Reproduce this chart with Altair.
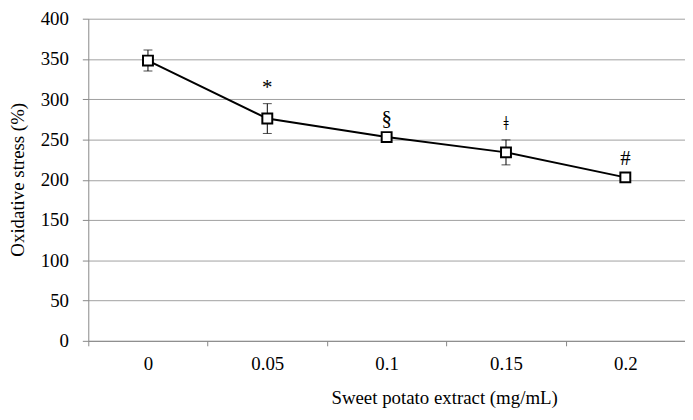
import altair as alt
import pandas as pd

categories = ["0", "0.05", "0.1", "0.15", "0.2"]
means = [348, 276, 253, 234, 203]
errors = [13, 18.5, 3, 15.5, 3]
marks = ["", "*", "§", "ǂ", "#"]

df = pd.DataFrame({
    "x": categories,
    "y": means,
    "lo": [m - e for m, e in zip(means, errors)],
    "hi": [m + e for m, e in zip(means, errors)],
    "mark": marks,
})

FONT = "Liberation Serif"

xenc = alt.X(
    "x:N",
    sort=categories,
    scale=alt.Scale(type="band", paddingInner=0, paddingOuter=0),
    axis=alt.Axis(
        title="Sweet potato extract (mg/mL)",
        labelAngle=0,
        tickBand="extent",
        grid=False,
        tickSize=5,
        labelPadding=9,
        titleX=359,
        titleY=57,
        titleBaseline="middle",
        titleAlign="center",
    ),
)

yscale = alt.Scale(domain=[0, 400])
yaxis = alt.Axis(
    title="Oxidative stress (%)",
    values=[0, 50, 100, 150, 200, 250, 300, 350, 400],
    grid=True,
    tickSize=6,
    labelPadding=14,
    titleAngle=-90,
    titleX=-71,
    titleY=162,
    titleBaseline="middle",
    titleAlign="center",
)

base = alt.Chart(df).encode(x=xenc)

line = base.mark_line(color="black", strokeWidth=2).encode(
    y=alt.Y("y:Q", scale=yscale, axis=yaxis)
)
rules = base.mark_rule(color="black", strokeWidth=1).encode(
    y=alt.Y("lo:Q", scale=yscale, axis=yaxis), y2="hi:Q"
)
cap_lo = base.mark_tick(color="black", thickness=1, size=9, orient="horizontal").encode(
    y=alt.Y("lo:Q", scale=yscale, axis=yaxis)
)
cap_hi = base.mark_tick(color="black", thickness=1, size=9, orient="horizontal").encode(
    y=alt.Y("hi:Q", scale=yscale, axis=yaxis)
)
points = base.mark_point(
    shape="square", size=100, filled=True, fill="white", stroke="black", strokeWidth=2, opacity=1
).encode(y=alt.Y("y:Q", scale=yscale, axis=yaxis))
labels = base.mark_text(
    font=FONT, fontSize=21, color="black", baseline="middle", dy=-16
).encode(y=alt.Y("hi:Q", scale=yscale, axis=yaxis), text="mark:N")

chart = (
    alt.layer(line, rules, cap_lo, cap_hi, points, labels)
    .properties(
        width=602,
        height=325,
        background="white",
        autosize=alt.AutoSizeParams(type="none"),
        padding={"left": 81, "top": 9, "right": 0, "bottom": 70},
    )
    .configure_view(stroke=None)
    .configure_axis(
        labelFont=FONT,
        labelFontSize=19,
        labelColor="black",
        titleFont=FONT,
        titleFontSize=19,
        titleFontWeight="normal",
        titleColor="black",
        domainColor="#888888",
        tickColor="#888888",
        gridColor="#a0a0a0",
        gridWidth=1,
    )
)

chart.save("out.html", embed_options={"renderer": "svg", "actions": False})
